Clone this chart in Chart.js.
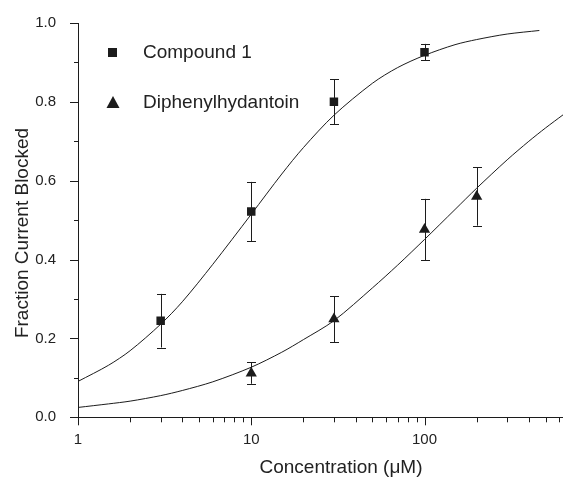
<!DOCTYPE html>
<html>
<head>
<meta charset="utf-8">
<script src="https://cdn.jsdelivr.net/npm/chart.js@4/dist/chart.umd.min.js"></script>
<style>
  body { margin: 0; background: #fff; }
  #wrap { width: 563px; height: 478px; position: relative; }
</style>
</head>
<body>
<div id="wrap"><canvas id="doseChart"></canvas></div>
<script>
// measured points (mean +/- error)
const concC1 = [3, 10, 30, 100];
const fracC1 = [0.245, 0.522, 0.800, 0.926];
const errC1 = [0.068, 0.075, 0.057, 0.021];

const concDPH = [10, 30, 100, 200];
const fracDPH = [0.112, 0.249, 0.476, 0.560];
const errDPH = [0.027, 0.058, 0.078, 0.074];

// fitted curves
const fitConcC1 = [1, 1.5, 2, 3, 4, 6, 10, 15, 20, 30, 50, 70, 100, 150, 200, 300, 460];
const fitFracC1 = [0.091, 0.132, 0.169, 0.236, 0.293, 0.388, 0.515, 0.617, 0.684, 0.766, 0.847, 0.887, 0.918, 0.945, 0.958, 0.972, 0.981];
const fitConcDPH = [1, 1.5, 2, 3, 4, 6, 10, 15, 20, 30, 50, 70, 100, 150, 200, 300, 400, 500, 630];
const fitFracDPH = [0.025, 0.034, 0.041, 0.055, 0.068, 0.090, 0.127, 0.165, 0.197, 0.245, 0.328, 0.386, 0.451, 0.527, 0.581, 0.653, 0.700, 0.734, 0.767];

const xTickLabels = [1, 10, 100];
const yTickLabels = [0, 0.2, 0.4, 0.6, 0.8, 1.0];
const legendNames = ["Compound 1", "Diphenylhydantoin"];
const xTitle = "Concentration (\u03bcM)";
const yTitle = "Fraction Current Blocked";

const ink = "#1c1c1c";
const fontFam = "'Liberation Sans', Arial, sans-serif";

function toXY(xs, ys) {
  return xs.map((x, i) => ({ x: x, y: ys[i] }));
}

const errorBars = {
  id: "errorBars",
  beforeDatasetsDraw(chart) {
    const ctx = chart.ctx;
    const xs = chart.scales.x, ys = chart.scales.y;
    const sets = [[concC1, fracC1, errC1], [concDPH, fracDPH, errDPH]];
    ctx.save();
    ctx.strokeStyle = ink;
    ctx.lineWidth = 1;
    sets.forEach(([cx, fy, er]) => {
      cx.forEach((c, i) => {
        const px = Math.round(xs.getPixelForValue(c)) + 0.5;
        const top = ys.getPixelForValue(fy[i] + er[i]);
        const bot = ys.getPixelForValue(fy[i] - er[i]);
        ctx.beginPath();
        ctx.moveTo(px, top); ctx.lineTo(px, bot);
        ctx.moveTo(px - 4.5, Math.round(top) + 0.5); ctx.lineTo(px + 4.5, Math.round(top) + 0.5);
        ctx.moveTo(px - 4.5, Math.round(bot) + 0.5); ctx.lineTo(px + 4.5, Math.round(bot) + 0.5);
        ctx.stroke();
      });
    });
    ctx.restore();
  }
};

// tick marks: long for labelled ticks, short for the rest
const tickMarks = {
  id: "tickMarks",
  afterDraw(chart) {
    const ctx = chart.ctx;
    const xs = chart.scales.x, ys = chart.scales.y;
    const area = chart.chartArea;
    ctx.save();
    ctx.strokeStyle = ink;
    ctx.lineWidth = 1;
    ctx.beginPath();
    for (let d = 1; d <= 100; d *= 10) {
      for (let k = 1; k <= 9; k++) {
        const v = d * k;
        if (v > xs.max) break;
        const px = Math.round(xs.getPixelForValue(v)) + 0.5;
        const len = xTickLabels.includes(v) ? 8 : 5;
        ctx.moveTo(px, area.bottom); ctx.lineTo(px, area.bottom + len);
      }
    }
    for (let i = 0; i <= 10; i++) {
      const py = Math.round(ys.getPixelForValue(i / 10)) + 0.5;
      const len = i % 2 === 0 ? 8 : 4;
      ctx.moveTo(area.left, py); ctx.lineTo(area.left - len, py);
    }
    ctx.stroke();
    ctx.restore();
  }
};

// legend and axis titles, placed where the original figure has them
const labelsPlugin = {
  id: "labelsPlugin",
  afterDraw(chart) {
    const ctx = chart.ctx;
    ctx.save();
    ctx.fillStyle = ink;
    ctx.fillRect(108, 48, 9, 9);
    ctx.beginPath();
    ctx.moveTo(113, 96); ctx.lineTo(119.5, 108); ctx.lineTo(106.5, 108);
    ctx.closePath();
    ctx.fill();
    ctx.font = "19px " + fontFam;
    ctx.textBaseline = "middle";
    ctx.fillStyle = "#222";
    ctx.fillText(legendNames[0], 143, 53);
    ctx.fillText(legendNames[1], 143, 103);

    ctx.textAlign = "center";
    ctx.fillText(xTitle, 341, 468);
    ctx.translate(23, 233);
    ctx.rotate(-Math.PI / 2);
    ctx.fillText(yTitle, 0, 0);
    ctx.restore();
  }
};

new Chart(document.getElementById("doseChart"), {
  type: "scatter",
  data: {
    datasets: [
      {
        type: "line", data: toXY(fitConcC1, fitFracC1),
        borderColor: ink, borderWidth: 1, pointRadius: 0, tension: 0.3, fill: false
      },
      {
        type: "line", data: toXY(fitConcDPH, fitFracDPH),
        borderColor: ink, borderWidth: 1, pointRadius: 0, tension: 0.3, fill: false
      },
      {
        label: legendNames[0], data: toXY(concC1, fracC1),
        pointStyle: "rect", pointRadius: 6, backgroundColor: ink, borderColor: ink, borderWidth: 0
      },
      {
        label: legendNames[1], data: toXY(concDPH, fracDPH),
        pointStyle: "triangle", pointRadius: 6.5, backgroundColor: ink, borderColor: ink, borderWidth: 0
      }
    ]
  },
  options: {
    responsive: true,
    maintainAspectRatio: false,
    animation: false,
    layout: { autoPadding: false, padding: { top: 20.7, right: 0, left: 0, bottom: 0 } },
    plugins: { legend: { display: false }, tooltip: { enabled: false } },
    scales: {
      x: {
        type: "logarithmic",
        min: 1, max: 630,
        afterFit: s => { s.height = 60.7; s.paddingLeft = 0; s.paddingRight = 0; },
        grid: { display: false },
        border: { display: true, color: ink, width: 1 },
        ticks: {
          autoSkip: false, maxRotation: 0, padding: 6, color: "#222",
          font: { family: fontFam, size: 15 },
          callback: v => xTickLabels.includes(v) ? String(v) : ""
        }
      },
      y: {
        min: 0, max: 1,
        afterFit: s => { s.width = 78; },
        grid: { display: false },
        border: { display: true, color: ink, width: 1 },
        ticks: {
          stepSize: 0.2, padding: 14, color: "#222",
          font: { family: fontFam, size: 15 },
          callback: v => yTickLabels.some(t => Math.abs(t - v) < 1e-6) ? v.toFixed(1) : ""
        }
      }
    }
  },
  plugins: [errorBars, tickMarks, labelsPlugin]
});
</script>
</body>
</html>
